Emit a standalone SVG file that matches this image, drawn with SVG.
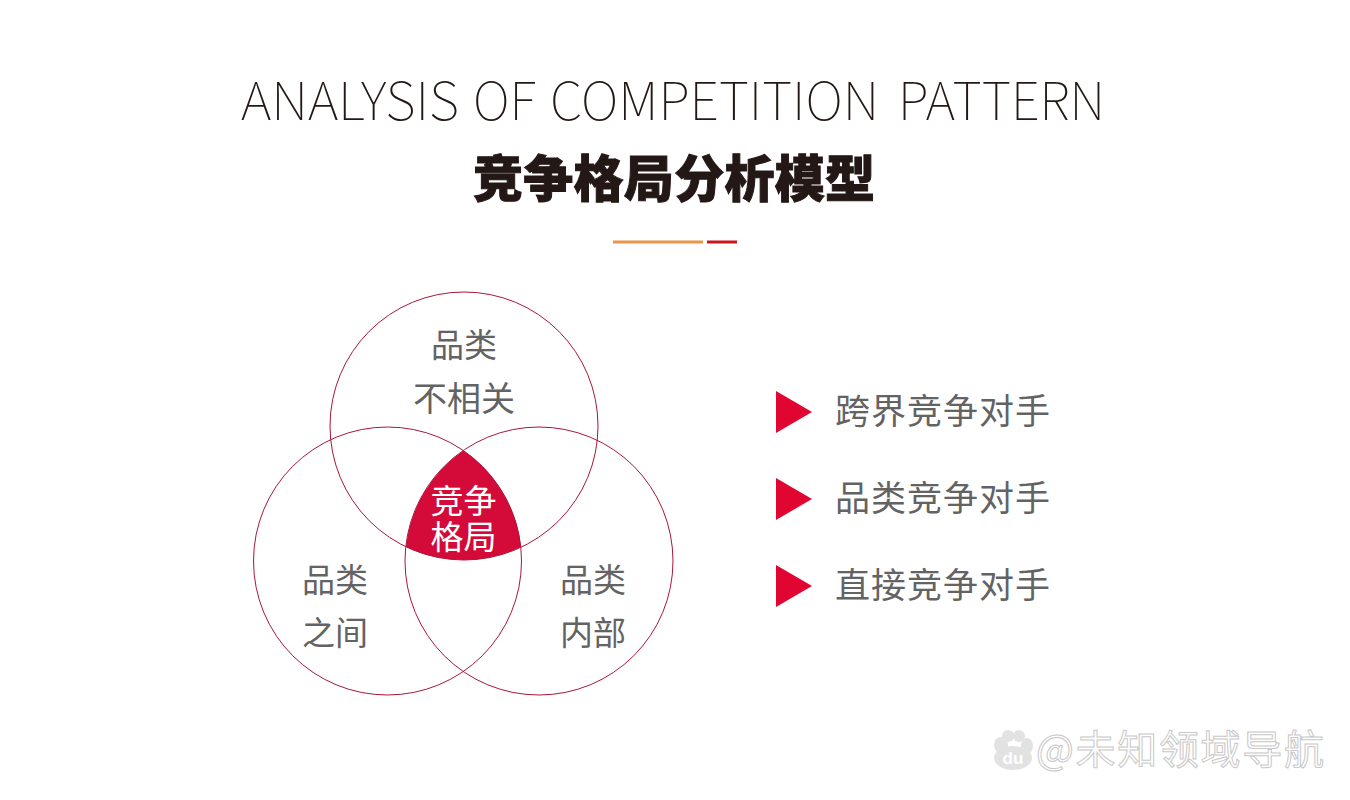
<svg xmlns="http://www.w3.org/2000/svg" width="1350" height="800" viewBox="0 0 1350 800">
<style>
.cjk{font-family:"Noto Sans CJK SC","Noto Sans",sans-serif}
.lab{font-size:33px;fill:#636363;text-anchor:middle;font-weight:400}
.item{font-size:35px;fill:#636363;font-weight:400}
.ring{fill:none;stroke:#a8173a;stroke-width:1}
.tri{fill:#e10631}
.wm{fill:#fff;stroke:#c8c8c8;stroke-width:1}
</style>
<rect width="1350" height="800" fill="#fff"/>
<g id="title">
<text class="cjk" y="120" font-weight="100" font-size="53" fill="#231815"><tspan x="241" textLength="218" lengthAdjust="spacingAndGlyphs">ANALYSIS</tspan> <tspan x="473" textLength="63" lengthAdjust="spacingAndGlyphs">OF</tspan> <tspan x="550" textLength="329" lengthAdjust="spacingAndGlyphs">COMPETITION</tspan> <tspan x="898" textLength="207" lengthAdjust="spacingAndGlyphs">PATTERN</tspan></text>
<text class="cjk" x="473" y="197" textLength="402" font-size="50" font-weight="900" fill="#231815" stroke="#231815" stroke-width="1">竞争格局分析模型</text>
</g>
<g id="divider">
<rect x="613" y="240.500" width="90" height="3" fill="#e8954a"/>
<rect x="707" y="240.500" width="30" height="3" fill="#c9151e"/>
</g>
<g id="center">
<path d="M463.500 450.500A134 134 0 0 1 521 547A134 134 0 0 1 406 547A134 134 0 0 1 463.500 450.500Z" fill="#d40a38"/>
<text class="cjk" font-size="33" fill="#fff" text-anchor="middle"><tspan x="463.500" y="513">竞争</tspan><tspan x="463.500" y="549">格局</tspan></text>
</g>
<g id="circle-top">
<circle class="ring" cx="464" cy="426" r="134"/>
<text class="cjk lab" x="464" y="357">品类</text>
<text class="cjk lab" x="464" y="411" font-size="34" style="font-size:34px">不相关</text>
</g>
<g id="circle-left">
<circle class="ring" cx="387.500" cy="561" r="134"/>
<text class="cjk lab" x="335" y="592">品类</text>
<text class="cjk lab" x="335" y="645">之间</text>
</g>
<g id="circle-right">
<circle class="ring" cx="539" cy="561" r="134"/>
<text class="cjk lab" x="593" y="592">品类</text>
<text class="cjk lab" x="593" y="645">内部</text>
</g>
<g id="item-1">
<polygon class="tri" points="776,391 812,412 776,433"/>
<text class="cjk item" x="835" y="424" textLength="215">跨界竞争对手</text>
</g>
<g id="item-2">
<polygon class="tri" points="776,478 812,499 776,520"/>
<text class="cjk item" x="835" y="511" textLength="215">品类竞争对手</text>
</g>
<g id="item-3">
<polygon class="tri" points="776,565 812,586 776,607"/>
<text class="cjk item" x="835" y="598" textLength="215">直接竞争对手</text>
</g>
<g id="watermark">
<g fill="#e2e2e2">
<ellipse cx="1001" cy="745" rx="7" ry="8"/>
<ellipse cx="1008" cy="736" rx="6" ry="6"/>
<ellipse cx="1019" cy="736" rx="6" ry="6"/>
<ellipse cx="1027" cy="746" rx="6" ry="8"/>
<ellipse cx="1013" cy="758" rx="19" ry="12"/>
</g>
<text x="1013" y="764" font-family="'Liberation Sans',sans-serif" font-weight="700" font-size="17" fill="#fff" text-anchor="middle">du</text>
<text class="cjk wm" x="1036" y="764" font-size="40" textLength="288">@未知领域导航</text>
</g>
</svg>
